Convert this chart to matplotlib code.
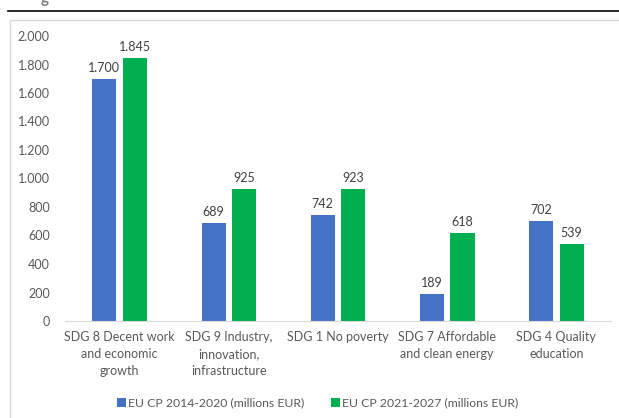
import matplotlib.pyplot as plt
import numpy as np
from matplotlib.patches import Rectangle
from matplotlib.lines import Line2D

categories = ["SDG 8 Decent work\nand economic\ngrowth",
              "SDG 9 Industry,\ninnovation,\ninfrastructure",
              "SDG 1 No poverty",
              "SDG 7 Affordable\nand clean energy",
              "SDG 4 Quality\neducation"]
cp_2014 = [1700, 689, 742, 189, 702]
cp_2021 = [1845, 925, 923, 618, 539]
series_names = ["EU CP 2014-2020 (millions EUR)", "EU CP 2021-2027 (millions EUR)"]
yticks = list(range(0, 2001, 200))

plt.rcParams['font.family'] = ['Lato', 'DejaVu Sans']
txt = '#595959'

fig = plt.figure(figsize=(6.19, 4.18), dpi=100)

# page furniture: rule under heading and chart frame
fig.add_artist(Line2D([8/619, 1], [1 - 11/418] * 2, color='black', lw=1.2))
fig.add_artist(Rectangle((10/619, -0.1), 1.0, 1 - 20/418 + 0.1, fill=False,
                         edgecolor='#d9d9d9', lw=1.0))
fig.text(45/619, 1 + 1/418, "g", fontsize=11, fontweight='bold', color='#7f7f7f',
         ha='center', va='center')

ax = fig.add_axes([65/619, 1 - 321/418, 546/619, 285/418])

x = np.arange(len(categories))
w = 0.22
off = 0.14
b1 = ax.bar(x - off, cp_2014, w, color='#4472C4', label=series_names[0])
b2 = ax.bar(x + off, cp_2021, w, color='#00B050', label=series_names[1])

for bars, vals in ((b1, cp_2014), (b2, cp_2021)):
    for r, v in zip(bars, vals):
        ax.text(r.get_x() + r.get_width() / 2, v + 35, f"{v:,}".replace(",", "."),
                ha='center', va='bottom', fontsize=9, color='#404040')

ax.set_xlim(-0.5, len(categories) - 0.5)
ax.set_ylim(0, 2000)
ax.set_yticks(yticks)
ax.set_yticklabels([f"{t:,}".replace(",", ".") for t in yticks], fontsize=9, color=txt)
ax.set_xticks(x)
ax.set_xticklabels(categories, fontsize=9, color=txt, linespacing=1.5)
ax.tick_params(length=0)
ax.tick_params(axis='y', pad=11)
ax.tick_params(axis='x', pad=7)
for s in ['top', 'right', 'left']:
    ax.spines[s].set_visible(False)
ax.spines['bottom'].set_color('#d9d9d9')

fig.legend(handles=[b1, b2], loc='center', bbox_to_anchor=(318/619, 1 - 403/418),
           ncol=2, frameon=False, fontsize=8.8, labelcolor=txt, handlelength=0.7,
           handleheight=0.7, handletextpad=0.2, columnspacing=2.2)

fig.savefig("out.png", dpi=100)
